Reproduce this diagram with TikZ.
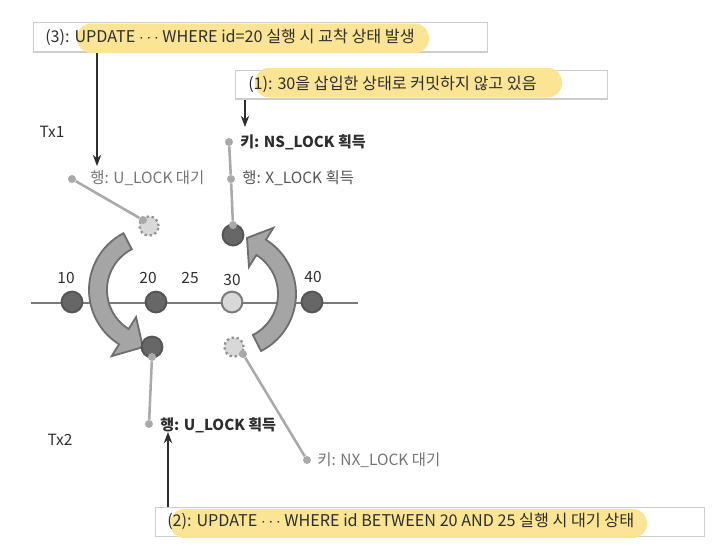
\documentclass[tikz,border=0pt]{standalone}
\usepackage{fontspec}
\setmainfont{Noto Sans CJK KR}
\usepackage{tikz}
\usetikzlibrary{arrows.meta,positioning,calc}
\definecolor{noteYellow}{HTML}{FBE494}
\definecolor{noteFrame}{HTML}{CDCDCD}
\definecolor{textDark}{HTML}{2E2E2E}
\definecolor{textGray}{HTML}{555555}
\definecolor{waitGray}{HTML}{747474}
\definecolor{recDark}{HTML}{676767}
\definecolor{recEdge}{HTML}{555555}
\definecolor{axisGray}{HTML}{7A7A7A}
\definecolor{stemGray}{HTML}{A9A9A9}
\definecolor{ghostGray}{HTML}{D8D8D8}
\definecolor{turnFill}{HTML}{A5A5A5}
\definecolor{turnEdge}{HTML}{6E6E6E}
% big curved arrow: #1 centre, #2 start angle, #3 head angle, #4 tip angle
\newcommand{\lockturn}[4]{%
  \begin{scope}[shift={#1}]
    \filldraw[turnarrow] plot[domain=#2:#3,samples=40] (\x:64) -- (#3:78) -- (#4:58)
      -- (#3:32) -- plot[domain=#3:#2,samples=40] (\x:46) -- cycle;
  \end{scope}}

\begin{document}
\begin{tikzpicture}[x=0.025cm, y=-0.025cm, font=\fontsize{11}{13}\selectfont,
  note/.style={draw=noteFrame, line width=0.9pt, inner sep=0pt, anchor=north west},
  notetext/.style={anchor=west, inner sep=0pt, text=textDark, font=\fontsize{11.5}{13}\selectfont},
  lbl/.style={anchor=west, inner sep=0pt, text=textDark},
  hl/.style={fill=noteYellow, rounded corners=10pt},
  pointer/.style={draw=textDark, line width=0.8pt, -{Stealth[length=8pt,width=6pt]}},
  stem/.style={draw=stemGray, line width=1.8pt},
  stemdot/.style={circle, fill=stemGray, inner sep=0pt, minimum size=0.2cm},
  recball/.style={circle, fill=recDark, draw=recEdge, line width=1.4pt, inner sep=0pt, minimum size=0.52cm},
  newball/.style={circle, fill=ghostGray, draw=axisGray, line width=1.4pt, inner sep=0pt, minimum size=0.52cm},
  ghostball/.style={circle, fill=ghostGray, draw=stemGray!85!black, dotted, line width=1.6pt, inner sep=0pt, minimum size=0.48cm},
  turnarrow/.style={fill=turnFill, draw=turnEdge, line width=1.3pt, line join=miter}]
\useasboundingbox (0,0) rectangle (726,548);

% ---------------- index: records 10 .. 40 ----------------
\coordinate (axisL) at (31,303);
\coordinate (axisR) at (358,303);
\draw[axisGray, line width=2pt] (axisL) -- (axisR);
\node[recball] (rec10) at (72,302) {};
\node[recball] (rec20) at (156,302) {};
\node[newball] (rec30) at (232,302) {};
\node[recball] (rec40) at (312,302) {};
\node[text=textDark] (val10) at (66,278) {10};
\node[text=textDark] (val20) at (148,278) {20};
\node[text=textDark] (val25) at (190,278) {25};
\node[text=textDark] (val30) at (232,280) {30};
\node[text=textDark] (val40) at (313,277) {40};

% ---------------- the two turning arrows ----------------
\lockturn{(153,290)}{242.5}{122}{100}
\lockturn{(232,294)}{63}{-58}{-75}

% ---------------- Tx1 side ----------------
\node[text=textDark] (tx1) at (52,132) {Tx1};
% row lock waiting on 20
\node[ghostball] (uwait) at (149,226) {};
\node[stemdot] (uwaitdot) at (72,179) {};
\node[stemdot] (uwaitend) at (143,220) {};
\draw[stem] (uwaitdot) -- (uwaitend);
\node[lbl, text=waitGray] (uwaittxt) at (90,178) {행: U\_LOCK 대기};
% locks held on 30
\node[recball] (xball) at (233,235) {};
\node[stemdot] (nsdot) at (229,142) {};
\node[stemdot] (xdot) at (231,179) {};
\node[stemdot] (xend) at (233,225) {};
\draw[stem] (nsdot) -- (xdot) -- (xend);
\node[lbl, font=\fontsize{10.7}{13}\selectfont\bfseries] (nstxt) at (240,142) {키: NS\_LOCK 획득};
\node[lbl, text=textGray] (xtxt) at (242,178) {행: X\_LOCK 획득};

% ---------------- Tx2 side ----------------
\node[text=textDark] (tx2) at (60,440) {Tx2};
% row lock held on 20
\node[recball] (uball) at (152,347) {};
\node[stemdot] (ugetdot) at (149,424) {};
\node[stemdot] (ugetend) at (152,357) {};
\draw[stem] (ugetend) -- (ugetdot);
\node[lbl, font=\fontsize{10.7}{13}\selectfont\bfseries] (ugettxt) at (160,425) {행: U\_LOCK 획득};
% insert-intention wait before 30
\node[ghostball] (nxball) at (234,347) {};
\node[stemdot] (nxend) at (243,354) {};
\node[stemdot] (nxdot) at (307,460) {};
\draw[stem] (nxend) -- (nxdot);
\node[lbl, text=waitGray] (nxtxt) at (317,460) {키: NX\_LOCK 대기};

% ---------------- notes ----------------
\node[note, minimum width=11.35cm, minimum height=0.733cm] (note3) at (33,22) {};
\fill[hl] (77,23.5) rectangle (429,53);
\node[notetext] (note3txt) at (45,37.5) {(3): UPDATE $\cdots$ WHERE id=20 실행 시 교착 상태 발생};

\node[note, minimum width=9.29cm, minimum height=0.71cm] (note1) at (235,70) {};
\fill[hl] (255,68) rectangle (562,97.5);
\node[notetext] (note1txt) at (248,84.5) {(1): 30을 삽입한 상태로 커밋하지 않고 있음};

\node[note, minimum width=13.725cm, minimum height=0.725cm] (note2) at (155,507) {};
\fill[hl] (170,509) rectangle (647,538);
\node[notetext] (note2txt) at (167,521.5) {(2): UPDATE $\cdots$ WHERE id BETWEEN 20 AND 25 실행 시 대기 상태};

% pointers from the notes
\coordinate (tip3) at (97,166);
\coordinate (tip1) at (245,127);
\coordinate (tip2) at (168,432);
\draw[pointer] (note3.south -| tip3) -- (tip3);
\draw[pointer] (note1.south -| tip1) -- (tip1);
\draw[pointer] (note2.north -| tip2) -- (tip2);
\end{tikzpicture}
\end{document}
